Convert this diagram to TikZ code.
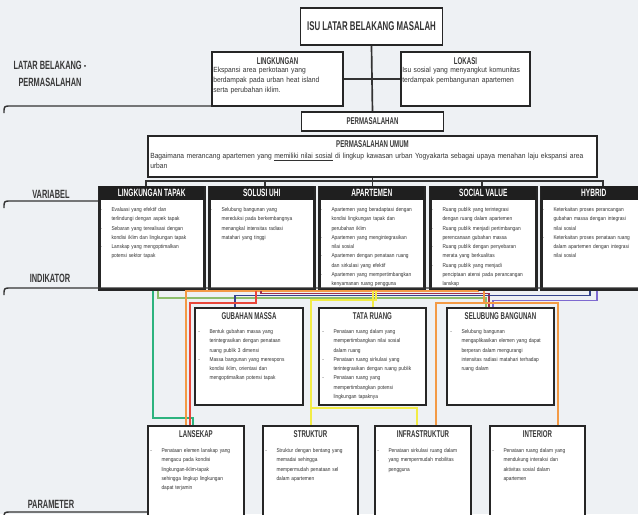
\documentclass[tikz,border=0pt]{standalone}
\usepackage{fontspec}
\newfontfamily\headfont[FakeStretch=0.62]{Liberation Sans}
\newfontfamily\bodyfont[FakeStretch=0.9]{Liberation Sans}
\newfontfamily\smallfont[FakeStretch=0.85]{Liberation Sans}
\usetikzlibrary{positioning}
\newlength{\pxu}
\setlength{\pxu}{0.025cm}
\hyphenpenalty=10000
\exhyphenpenalty=10000
\newcommand{\itemdash}{\par\noindent\hangindent=8pt\hangafter=1\makebox[8pt][l]{-}}
\definecolor{paper}{HTML}{EEF1F4}
\definecolor{wteal}{HTML}{2DB37E}
\definecolor{wgreen}{HTML}{8DBE6C}
\definecolor{wred}{HTML}{E8463A}
\definecolor{wmaroon}{HTML}{A0304E}
\definecolor{wnavy}{HTML}{34438C}
\definecolor{wpurple}{HTML}{7E6AD0}
\definecolor{worange}{HTML}{F39A45}
\definecolor{wyellow}{HTML}{F2EC45}
\tikzset{
  panel/.style={draw=black!85, line width=1.4pt, fill=white, inner sep=0pt, anchor=north west},
  varpanel/.style={draw=black!85, line width=1.8pt, fill=white, inner sep=0pt, anchor=north west},
  varhead/.style={fill=black!88, text=white, font=\headfont\bfseries\fontsize{7.5}{8}\selectfont, inner sep=0pt, anchor=north, minimum height=14\pxu},
  headtext/.style={font=\headfont\bfseries\fontsize{7}{8}\selectfont, text=black!78, inner sep=0pt},
  titletext/.style={font=\headfont\bfseries\fontsize{9}{10}\selectfont, text=black!80},
  bodytext/.style={font=\bodyfont\fontsize{5.3}{7}\selectfont, text=black!80, align=left, inner sep=0pt},
  smalltext/.style={font=\smallfont\fontsize{4}{6.6}\selectfont, text=black!80, align=left, inner sep=0pt},
  sidelabel/.style={font=\headfont\bfseries\fontsize{8.5}{12}\selectfont, text=black!78, align=center},
  rule/.style={line width=1pt, draw=black!80},
  tree/.style={line width=1.2pt, draw=black!80},
  wire/.style={line width=1.4pt},
}
\begin{document}
\begin{tikzpicture}[x=0.025cm, y=-0.025cm]
\useasboundingbox (0,0) rectangle (638,514);
\fill[paper] (0,0) rectangle (638,514);

% labels on the left
\node[sidelabel] (lbllatar) at (50,74) {LATAR BELAKANG -\\PERMASALAHAN};
\node[sidelabel] (lblvar) at (51,194) {VARIABEL};
\node[sidelabel] (lblind) at (50,278) {INDIKATOR};
\node[sidelabel] (lblpar) at (51,504) {PARAMETER};

% isu
\node[panel, titletext, anchor=center, minimum width=142\pxu, minimum height=37\pxu] (isu) at (371.5,26.5) {ISU LATAR BELAKANG MASALAH};
\node[panel, minimum width=131\pxu, minimum height=54\pxu] (ling) at (211,51) {};
\node[headtext, below=6\pxu of ling.north] (linghead) {LINGKUNGAN};
\node[bodytext, text width=128\pxu, below right=16\pxu and 2\pxu of ling.north west] (lingtext) {Ekspansi area perkotaan yang\newline berdampak pada urban heat island\newline serta perubahan iklim.};
\node[panel, minimum width=129\pxu, minimum height=54\pxu] (lok) at (400,51) {};
\node[headtext, below=6\pxu of lok.north] (lokhead) {LOKASI};
\node[bodytext, text width=126\pxu, below right=16\pxu and 2\pxu of lok.north west] (loktext) {Isu sosial yang menyangkut komunitas\newline terdampak pembangunan apartemen};
\node[panel, headtext, anchor=north west, minimum width=142\pxu, minimum height=19\pxu] (perm) at (300.5,111) {PERMASALAHAN};
\node[panel, minimum width=449\pxu, minimum height=41\pxu] (pu) at (147,135) {};
\node[headtext, below=5\pxu of pu.north] (puhead) {PERMASALAHAN UMUM};
\node[bodytext, text width=444\pxu, below right=18\pxu and 3\pxu of pu.north west] (putext) {Bagaimana merancang apartemen yang \underline{memiliki nilai sosial} di lingkup kawasan urban Yogyakarta sebagai upaya menahan laju ekspansi area\newline urban};

\draw[tree] (isu.south) -- (perm.north);
\draw[tree] (ling.east) -- (lok.west);
\coordinate (fork) at (pu.south |- 0,181);
\draw[tree] (pu.south) -- (fork);

% variabel
\node[varpanel, minimum width=105\pxu, minimum height=102\pxu] (lt) at (98,186) {};
\node[varhead, minimum width=105\pxu] (lthead) at (lt.north) {LINGKUNGAN TAPAK};
\node[smalltext, text width=101\pxu, below right=16\pxu and 2\pxu of lt.north west] (lttext) {\itemdash Evaluasi yang efektif dan\newline terlindungi dengan aspek tapak\itemdash Sebaran yang terealisasi dengan\newline kondisi iklim dan lingkungan tapak\itemdash Lanskap yang mengoptimalkan\newline potensi sektor tapak\par};
\node[varpanel, minimum width=105\pxu, minimum height=102\pxu] (uhi) at (208,186) {};
\node[varhead, minimum width=105\pxu] (uhihead) at (uhi.north) {SOLUSI UHI};
\node[smalltext, text width=101\pxu, below right=16\pxu and 2\pxu of uhi.north west] (uhitext) {\itemdash Selubung bangunan yang\newline mereduksi pada berkembangnya\newline menangkal intensitas radiasi\newline matahari yang tinggi\par};
\node[varpanel, minimum width=105\pxu, minimum height=102\pxu] (apt) at (318,186) {};
\node[varhead, minimum width=105\pxu] (apthead) at (apt.north) {APARTEMEN};
\node[smalltext, text width=101\pxu, below right=16\pxu and 2\pxu of apt.north west] (apttext) {\itemdash Apartemen yang beradaptasi dengan\newline kondisi lingkungan tapak dan\newline perubahan iklim\itemdash Apartemen yang mengintegrasikan\newline nilai sosial\itemdash Apartemen dengan penataan ruang\newline dan sirkulasi yang efektif\itemdash Apartemen yang mempertimbangkan\newline kenyamanan ruang pengguna\par};
\node[varpanel, minimum width=106\pxu, minimum height=102\pxu] (sv) at (429,186) {};
\node[varhead, minimum width=106\pxu] (svhead) at (sv.north) {SOCIAL VALUE};
\node[smalltext, text width=102\pxu, below right=16\pxu and 2\pxu of sv.north west] (svtext) {\itemdash Ruang publik yang terintegrasi\newline dengan ruang dalam apartemen\itemdash Ruang publik menjadi pertimbangan\newline perencanaan gubahan massa\itemdash Ruang publik dengan penyebaran\newline merata yang berkualitas\itemdash Ruang publik yang menjadi\newline penciptaan atensi pada perancangan\newline lanskap\par};
\node[varpanel, minimum width=105\pxu, minimum height=102\pxu] (hyb) at (540,186) {};
\node[varhead, minimum width=105\pxu] (hybhead) at (hyb.north) {HYBRID};
\node[smalltext, text width=101\pxu, below right=16\pxu and 2\pxu of hyb.north west] (hybtext) {\itemdash Keterkaitan proses perancangan\newline gubahan massa dengan integrasi\newline nilai sosial\itemdash Keterkaitan proses penataan ruang\newline dalam apartemen dengan integrasi\newline nilai sosial\par};

\draw[tree] (lt.north -| 146,0) |- (fork) -| (hyb.north -| 603,0);
\draw[tree] (fork -| 265,0) -- (uhi.north -| 265,0);
\draw[tree] (fork) -- (apt.north -| fork);
\draw[tree] (fork -| 482,0) -- (sv.north -| 482,0);

% garis kategori
\draw[rule] (4,113) .. controls (4,106) .. (11,106) -- (ling.west |- 0,106);
\draw[rule] (4,208) .. controls (4,201) .. (11,201) -- (lt.west |- 0,201);
\draw[rule] (4,295) .. controls (4,288) .. (11,288) -- (638,288);
\draw[rule] (4,519) .. controls (4,512) .. (11,512) -- (147,512);

% indikator
\node[panel, minimum width=108\pxu, minimum height=97\pxu] (gm) at (194,307) {};
\node[headtext, below=5\pxu of gm.north] (gmhead) {GUBAHAN MASSA};
\node[smalltext, text width=102\pxu, below right=17\pxu and 4\pxu of gm.north west] (gmtext) {\itemdash Bentuk gubahan massa yang\newline terintegrasikan dengan penataan\newline ruang publik 3 dimensi\itemdash Massa bangunan yang merespons\newline kondisi iklim, orientasi dan\newline mengoptimalkan potensi tapak\par};
\node[panel, minimum width=107\pxu, minimum height=97\pxu] (tr) at (318,307) {};
\node[headtext, below=5\pxu of tr.north] (trhead) {TATA RUANG};
\node[smalltext, text width=101\pxu, below right=17\pxu and 4\pxu of tr.north west] (trtext) {\itemdash Penataan ruang dalam yang\newline mempertimbangkan nilai sosial\newline dalam ruang\itemdash Penataan ruang sirkulasi yang\newline terintegrasikan dengan ruang publik\itemdash Penataan ruang yang\newline mempertimbangkan potensi\newline lingkungan tapaknya\par};
\node[panel, minimum width=107\pxu, minimum height=97\pxu] (sb) at (446,307) {};
\node[headtext, below=5\pxu of sb.north] (sbhead) {SELUBUNG BANGUNAN};
\node[smalltext, text width=101\pxu, below right=17\pxu and 4\pxu of sb.north west] (sbtext) {\itemdash Selubung bangunan\newline mengaplikasikan elemen yang dapat\newline berperan dalam mengurangi\newline intensitas radiasi matahari terhadap\newline ruang dalam\par};

% parameter
\node[panel, minimum width=96\pxu, minimum height=98\pxu] (lan) at (147,425) {};
\node[headtext, below=5\pxu of lan.north] (lanhead) {LANSEKAP};
\node[smalltext, text width=90\pxu, below right=18\pxu and 3\pxu of lan.north west] (lantext) {\itemdash Penataan elemen lanskap yang\newline mengacu pada kondisi\newline lingkungan-iklim-tapak\newline sehingga lingkup lingkungan\newline dapat terjamin\par};
\node[panel, minimum width=95\pxu, minimum height=98\pxu] (str) at (262,425) {};
\node[headtext, below=5\pxu of str.north] (strhead) {STRUKTUR};
\node[smalltext, text width=89\pxu, below right=18\pxu and 3\pxu of str.north west] (strtext) {\itemdash Struktur dengan bentang yang\newline memadai sehingga\newline mempermudah penataan sel\newline dalam apartemen\par};
\node[panel, minimum width=96\pxu, minimum height=98\pxu] (inf) at (374,425) {};
\node[headtext, below=5\pxu of inf.north] (infhead) {INFRASTRUKTUR};
\node[smalltext, text width=90\pxu, below right=18\pxu and 3\pxu of inf.north west] (inftext) {\itemdash Penataan sirkulasi ruang dalam\newline yang mempermudah mobilitas\newline pengguna\par};
\node[panel, minimum width=95\pxu, minimum height=98\pxu] (int) at (489,425) {};
\node[headtext, below=5\pxu of int.north] (inthead) {INTERIOR};
\node[smalltext, text width=89\pxu, below right=18\pxu and 3\pxu of int.north west] (inttext) {\itemdash Penataan ruang dalam yang\newline mendukung interaksi dan\newline aktivitas sosial dalam\newline apartemen\par};

% hubungan indikator - parameter
\draw[wire, wteal] (lt.south -| 153,0) |- (193,418) -- (lan.north -| 193,0);
\draw[wire, wgreen] (lt.south -| 158,0) |- (486,298) -- (sb.north -| 486,0);
\draw[wire, worange] (sv.south -| 478,0) |- (186,291) -- (lan.north -| 186,0);
\draw[wire, wmaroon] (uhi.south -| 261,0) |- (489,293.5) -- (sb.north -| 489,0);
\draw[wire, wnavy] (hyb.south -| 590,0) |- (235,295.5) -- (gm.north -| 235,0);
\draw[wire, wred] (uhi.south -| 256,0) |- (190,303) -- (lan.north -| 190,0);
\draw[wire, wpurple] (hyb.south -| 597,0) |- (493,300.5) -- (sb.north -| 493,0);
\draw[wire, wyellow] (apt.south -| 373,0) -- (tr.north -| 373,0);
\draw[wire, wyellow] (apt.south -| 376,0) |- (311,300) -- (str.north -| 311,0);
\draw[wire, wyellow] (311,408) -| (inf.north -| 417,0);
\draw[wire, worange] (sv.south -| 484,0) -- (484,303);
\draw[wire, worange] (inf.north -| 436,0) |- (558,303) -- (int.north -| 558,0);
\end{tikzpicture}
\end{document}
